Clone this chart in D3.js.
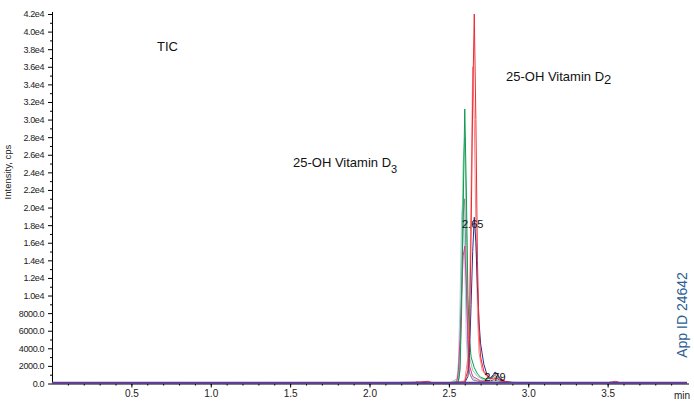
<!DOCTYPE html>
<meta charset="utf-8">
<title>TIC 25-OH Vitamin D</title>
<script src="https://d3js.org/d3.v7.min.js"></script>
<style>
    body { margin: 0; background: #fff; }
    text { font-family: "Liberation Sans", Arial, sans-serif; }
</style>
<body>
<div id="chart"></div>
<script>

    // tick values
    var yTicks = [0, 2000, 4000, 6000, 8000, 10000, 12000, 14000, 16000, 18000, 20000,
                  22000, 24000, 26000, 28000, 30000, 32000, 34000, 36000, 38000, 40000, 42000];
    var xTicks = [0.5, 1.0, 1.5, 2.0, 2.5, 3.0, 3.5];

    // traces: [time (min), intensity (cps)]
    var lightBlue = [[0,40],[2.5,40],[2.55,300],[2.56,2500],[2.57,9000],[2.58,19000],[2.59,21500],[2.60,14000],
                     [2.61,5000],[2.62,1800],[2.64,700],[2.68,300],[2.75,200],[2.79,500],[2.83,150],[3.5,60],[3.52,200],[3.54,60],[4.0,40]];
    var grey      = [[0,30],[2.5,30],[2.56,200],[2.57,2000],[2.58,10000],[2.59,19000],[2.60,21000],[2.61,12000],
                     [2.62,4000],[2.63,1200],[2.65,400],[2.70,200],[2.8,300],[2.9,50],[4.0,30]];
    var lightGreen= [[0,40],[2.5,40],[2.56,600],[2.57,4000],[2.58,13000],[2.59,25000],[2.60,28000],[2.61,18000],
                     [2.62,7000],[2.63,3000],[2.65,1500],[2.68,800],[2.72,400],[2.78,700],[2.82,400],[2.9,60],[4.0,40]];
    var lightRed  = [[0,50],[2.5,50],[2.60,300],[2.62,3000],[2.63,9000],[2.64,22000],[2.65,36000],[2.66,30000],
                     [2.67,18000],[2.68,8000],[2.69,3500],[2.71,1500],[2.74,800],[2.78,600],[2.80,700],[2.84,250],[2.9,80],[4.0,50]];
    var magenta   = [[0,50],[2.28,60],[2.30,200],[2.32,60],[2.5,50],[2.55,150],[2.56,1500],[2.57,5000],[2.58,10000],
                     [2.59,14500],[2.60,15600],[2.61,11000],[2.62,5000],[2.63,2000],[2.65,800],[2.70,300],[2.75,250],
                     [2.78,900],[2.80,1100],[2.82,700],[2.86,150],[2.95,60],[4.0,50]];
    var green     = [[0,40],[2.5,40],[2.56,200],[2.57,1500],[2.58,8000],[2.59,20000],[2.60,31200],[2.61,22000],
                     [2.62,10000],[2.63,5000],[2.64,3000],[2.66,1800],[2.68,1100],[2.70,700],[2.73,500],[2.76,600],
                     [2.79,900],[2.81,700],[2.85,200],[2.95,60],[4.0,40]];
    var navy      = [[0,60],[2.5,60],[2.60,100],[2.62,800],[2.63,3500],[2.64,9000],[2.65,15000],[2.66,18900],
                     [2.67,16000],[2.68,11000],[2.69,7000],[2.70,4500],[2.72,2200],[2.74,1000],[2.76,600],[2.78,1000],
                     [2.79,1300],[2.80,1200],[2.82,600],[2.85,200],[2.9,80],[4.0,60]];
    var red       = [[0,60],[1.0,80],[2.0,60],[2.3,150],[2.37,250],[2.40,60],[2.55,50],[2.60,200],[2.62,1500],
                     [2.63,6000],[2.64,17000],[2.65,32000],[2.66,42000],[2.67,30000],[2.68,14000],[2.69,6000],
                     [2.70,3000],[2.72,1400],[2.75,700],[2.78,500],[2.80,600],[2.83,300],[2.9,100],[3.5,80],
                     [3.55,250],[3.58,80],[4.0,60]];
    var purple    = [[0,80],[1.0,90],[2.0,80],[2.5,90],[3.0,80],[4.0,80]];

    var traces = [
        {data: lightBlue,  color: "#9fd2ea", w: 1},
        {data: grey,       color: "#8a8a8a", w: 1},
        {data: lightGreen, color: "#86d1a6", w: 1},
        {data: lightRed,   color: "#f4898d", w: 1},
        {data: magenta,    color: "#e8338f", w: 1},
        {data: green,      color: "#0f9a4f", w: 1},
        {data: navy,       color: "#2e2f8d", w: 1},
        {data: red,        color: "#ee2a2f", w: 1},
        {data: purple,     color: "#5a3d9a", w: 2}
    ];

    // peak labels
    var peakLabels = [{t: 2.65, v: 17700, text: "2.65"}, {t: 2.79, v: 280, text: "2.79"}];

    var width = 694, height = 401;

    var svg = d3.select("#chart")
        .append("svg")
        .attr("width", width)
        .attr("height", height);

    var x = d3.scaleLinear().domain([0, 4.0]).range([52, 687]);
    var y = d3.scaleLinear().domain([0, 42000]).range([383.5, 14]);

    var fmt = function(v) {
        return v >= 10000 ? (v / 10000).toFixed(1) + "e4" : v.toFixed(1);
    };

    // y axis: minor ticks then labelled ticks
    svg.append("g")
        .attr("transform", "translate(52,0)")
        .call(d3.axisLeft(y).tickValues(d3.range(1000, 42000, 2000)).tickSize(2).tickFormat(""))
        .select(".domain").remove();

    var yAxis = svg.append("g")
        .attr("transform", "translate(52,0)")
        .call(d3.axisLeft(y).tickValues(yTicks).tickSize(4).tickPadding(4).tickSizeOuter(0).tickFormat(fmt));
    yAxis.select(".domain").attr("d", "M0.5,383.5V12");
    yAxis.selectAll("text").style("font-size", "9px").style("letter-spacing", "-0.4px").attr("fill", "#222");

    // x axis: minor ticks every 0.1
    svg.append("g")
        .attr("transform", "translate(0,383.5)")
        .call(d3.axisBottom(x).tickValues(d3.range(0.1, 4.0, 0.1)).tickSize(2).tickFormat(""))
        .select(".domain").remove();

    var xAxis = svg.append("g")
        .attr("transform", "translate(0,383.5)")
        .call(d3.axisBottom(x).tickValues(xTicks).tickSize(4).tickPadding(2).tickSizeOuter(0).tickFormat(d3.format(".1f")));
    xAxis.select(".domain").attr("d", "M52,0.5H689");
    xAxis.selectAll("text").style("font-size", "10px").attr("fill", "#222");

    svg.append("text")
        .attr("x", 682).attr("y", 399)
        .attr("text-anchor", "middle")
        .style("font-size", "10px")
        .attr("fill", "#222")
        .text("min");

    svg.append("text")
        .attr("transform", "translate(11,172) rotate(-90)")
        .attr("text-anchor", "middle")
        .style("font-size", "9.5px")
        .attr("fill", "#222")
        .text("Intensity, cps");

    // the traces
    var line = d3.line()
        .x(function(d) { return x(d[0]); })
        .y(function(d) { return y(d[1]); });

    svg.selectAll("path.trace")
        .data(traces)
        .enter()
        .append("path")
        .attr("class", "trace")
        .attr("d", function(d) { return line(d.data); })
        .style("fill", "none")
        .style("stroke", function(d) { return d.color; })
        .style("stroke-width", function(d) { return d.w; });

    // retention time labels
    svg.selectAll("text.peak")
        .data(peakLabels)
        .enter()
        .append("text")
        .attr("class", "peak")
        .attr("x", function(d) { return x(d.t); })
        .attr("y", function(d) { return y(d.v); })
        .attr("text-anchor", "middle")
        .style("font-size", "11px")
        .attr("fill", "#111")
        .text(function(d) { return d.text; });

    // annotations
    svg.append("text")
        .attr("x", 157).attr("y", 51)
        .style("font-size", "13px")
        .attr("fill", "#111")
        .text("TIC");

    var d2 = svg.append("text")
        .attr("x", 506).attr("y", 81)
        .style("font-size", "13px")
        .attr("fill", "#111");
    d2.append("tspan").text("25-OH Vitamin D");
    d2.append("tspan").attr("dy", 3).style("font-size", "13px").text("2");

    var d3t = svg.append("text")
        .attr("x", 293).attr("y", 167)
        .style("font-size", "13px")
        .attr("fill", "#111");
    d3t.append("tspan").text("25-OH Vitamin D");
    d3t.append("tspan").attr("dy", 6).style("font-size", "11px").text("3");

    svg.append("text")
        .attr("transform", "translate(687,315) rotate(-90)")
        .attr("text-anchor", "middle")
        .style("font-size", "14px")
        .attr("fill", "#2d5e93")
        .text("App ID 24642");

</script>
</body>
